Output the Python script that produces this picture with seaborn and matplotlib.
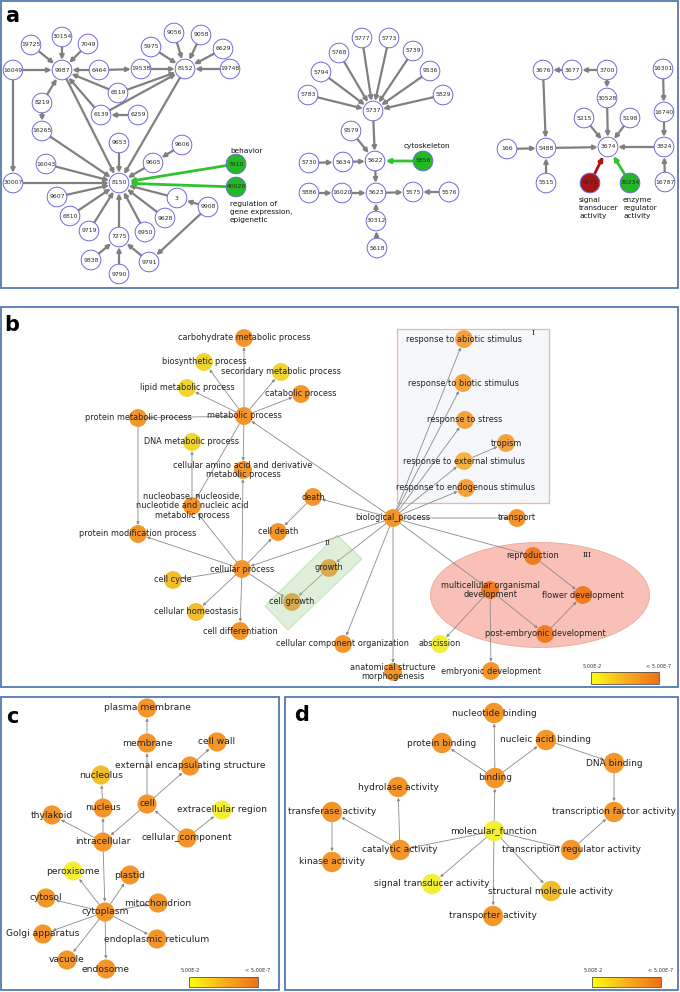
import numpy as np
import pandas as pd
import matplotlib
matplotlib.use('Agg')
import matplotlib.pyplot as plt
import seaborn as sns
from matplotlib.patches import Rectangle, Ellipse, Polygon

sns.set_theme(style='white')
plt.rcParams['font.family'] = ['DejaVu Sans']

# ---------------- panel a : GO id networks ----------------
a_ids = ['19725', '30154', '7049', '16049', '9987', '6464', '19538', '8152', '19748',
         '5975', '9056', '9058', '6629', '6519', '8219', '6139', '6259', '16265',
         '9653', '9606', '16043', '9605', '30007', '8150', '9607', '3', '9908',
         '6810', '9628', '9719', '7275', '6950', '9838', '9791', '9790', '7610', '40029',
         '5777', '5773', '5768', '5739', '5794', '9536', '5783', '5829', '5737', '9579',
         '5730', '5634', '5622', '5856', '5886', '16020', '5623', '5575', '5576',
         '30312', '5618',
         '3676', '3677', '3700', '16301', '30528', '16740', '5215', '5198', '166',
         '5488', '3674', '3824', '5515', '4871', '30234', '16787']
a_x = [31, 62, 88, 13, 62, 99, 141, 185, 230,
       151, 174, 201, 223, 118, 42, 101, 138, 42,
       119, 182, 46, 153, 13, 119, 57, 177, 208,
       70, 165, 89, 119, 145, 91, 149, 119, 236, 236,
       362, 389, 339, 413, 321, 430, 308, 443, 373, 351,
       309, 343, 375, 423, 309, 342, 376, 413, 449,
       376, 377,
       543, 572, 607, 663, 607, 664, 584, 630, 507,
       546, 608, 664, 546, 590, 630, 665]
a_y = [45, 37, 44, 70, 70, 70, 69, 69, 69,
       47, 33, 35, 49, 93, 103, 115, 115, 131,
       143, 145, 164, 163, 183, 183, 197, 198, 207,
       216, 218, 231, 237, 232, 260, 262, 274, 164, 187,
       38, 38, 53, 51, 72, 71, 95, 95, 111, 131,
       163, 162, 161, 161, 193, 193, 193, 192, 192,
       221, 248,
       70, 70, 70, 69, 98, 112, 118, 118, 149,
       148, 147, 147, 183, 183, 183, 182]
a_kind = ['plain'] * len(a_ids)
for k in ['7610', '40029', '5856', '30234']:
    a_kind[a_ids.index(k)] = 'green'
a_kind[a_ids.index('4871')] = 'red'

a_edges = [('19725', '9987'), ('30154', '9987'), ('7049', '9987'), ('16049', '9987'),
           ('6464', '9987'), ('6464', '19538'), ('19538', '8152'), ('19748', '8152'),
           ('5975', '8152'), ('9056', '8152'), ('9058', '8152'), ('6629', '8152'),
           ('6519', '9987'), ('6519', '8152'), ('6139', '9987'), ('6139', '8152'),
           ('6259', '6139'), ('8219', '9987'), ('8219', '16265'), ('16265', '8150'),
           ('16049', '30007'), ('30007', '8150'), ('9987', '8150'), ('8152', '8150'),
           ('9653', '8150'), ('16043', '8150'), ('9605', '8150'), ('9606', '9605'),
           ('9607', '8150'), ('6810', '8150'), ('9719', '8150'), ('7275', '8150'),
           ('6950', '8150'), ('9628', '8150'), ('3', '8150'), ('9908', '3'),
           ('9908', '9791'), ('9838', '7275'), ('9790', '7275'), ('9791', '7275'),
           ('5777', '5737'), ('5773', '5737'), ('5768', '5737'), ('5739', '5737'),
           ('5794', '5737'), ('9536', '5737'), ('5783', '5737'), ('5829', '5737'),
           ('5737', '5622'), ('9579', '5622'), ('5730', '5634'), ('5634', '5622'),
           ('5622', '5623'), ('5886', '16020'), ('16020', '5623'), ('5623', '5575'),
           ('5576', '5575'), ('30312', '5623'), ('5618', '30312'),
           ('3700', '3677'), ('3677', '3676'), ('3676', '5488'), ('3700', '30528'),
           ('30528', '3674'), ('166', '5488'), ('5515', '5488'), ('5488', '3674'),
           ('5215', '3674'), ('5198', '3674'), ('16301', '16740'), ('16740', '3824'),
           ('3824', '3674'), ('16787', '3824')]
a_green_edges = [('7610', '8150'), ('40029', '8150'), ('5856', '5622'), ('30234', '3674')]
a_red_edges = [('4871', '3674')]

# ---------------- panel b : biological process ----------------
b_keys = ['carb', 'bios', 'secm', 'lipid', 'catab', 'protm', 'metab', 'dna', 'amino',
          'nucl', 'protmod', 'death', 'celldeath', 'cellp', 'cycle', 'growth',
          'cellgrowth', 'homeo', 'diff', 'ccorg', 'biop', 'abio', 'biot', 'stress',
          'trop', 'ext', 'endo', 'transp', 'repro', 'multi', 'flower', 'post',
          'absc', 'anat', 'embr']
b_labels = ['carbohydrate metabolic process', 'biosynthetic process',
            'secondary metabolic process', 'lipid metabolic process', 'catabolic process',
            'protein metabolic process', 'metabolic process', 'DNA metabolic process',
            'cellular amino acid and derivative\nmetabolic process',
            'nucleobase, nucleoside,\nnucleotide and nucleic acid\nmetabolic process',
            'protein modification process', 'death', 'cell death', 'cellular process',
            'cell cycle', 'growth', 'cell growth', 'cellular homeostasis',
            'cell differentiation', 'cellular component organization',
            'biological_process', 'response to abiotic stimulus',
            'response to biotic stimulus', 'response to stress', 'tropism',
            'response to external stimulus', 'response to endogenous stimulus',
            'transport', 'reproduction', 'multicellular organismal\ndevelopment',
            'flower development', 'post-embryonic development', 'abscission',
            'anatomical structure\nmorphogenesis', 'embryonic development']
b_x = [244, 204, 281, 187, 301, 138, 244, 192, 243,
       192, 138, 313, 278, 242, 173, 329,
       292, 196, 240, 343, 393, 464, 463, 465,
       506, 464, 466, 517, 533, 490, 583, 545,
       440, 393, 491]
b_y = [338, 362, 372, 388, 394, 418, 416, 442, 470,
       506, 534, 497, 532, 569, 580, 568,
       602, 612, 631, 644, 518, 339, 383, 420,
       443, 461, 488, 518, 556, 590, 595, 634,
       644, 672, 671]
b_level = ['o', 'y', 'y', 'y', 'o', 'o', 'o', 'y', 'o',
           'o', 'o', 'o', 'o', 'o', 'g', 'o',
           'o', 'g', 'o', 'o', 'o', 'lo', 'lo', 'lo',
           'lo', 'xo', 'lo', 'o', 'ro', 'ro', 'ro', 'ro',
           'by', 'o', 'o']
b_edges = [('metab', 'carb'), ('metab', 'bios'), ('metab', 'secm'), ('metab', 'lipid'),
           ('metab', 'catab'), ('metab', 'protm'), ('metab', 'amino'), ('metab', 'nucl'),
           ('nucl', 'dna'), ('protm', 'protmod'), ('cellp', 'protmod'), ('cellp', 'nucl'),
           ('cellp', 'amino'), ('cellp', 'celldeath'), ('death', 'celldeath'),
           ('cellp', 'cycle'), ('cellp', 'homeo'), ('cellp', 'diff'),
           ('cellp', 'cellgrowth'), ('growth', 'cellgrowth'), ('biop', 'metab'),
           ('biop', 'death'), ('biop', 'cellp'), ('biop', 'growth'), ('biop', 'abio'),
           ('biop', 'biot'), ('biop', 'stress'), ('biop', 'ext'), ('biop', 'endo'),
           ('ext', 'trop'), ('biop', 'transp'), ('biop', 'repro'), ('biop', 'multi'),
           ('biop', 'ccorg'), ('biop', 'anat'), ('repro', 'flower'), ('multi', 'post'),
           ('multi', 'absc'), ('multi', 'embr'), ('post', 'flower')]

# ---------------- panel c : cellular component ----------------
c_labels = ['plasma membrane', 'membrane', 'cell wall', 'external encapsulating structure',
            'nucleolus', 'nucleus', 'cell', 'extracellular region', 'thylakoid',
            'intracellular', 'cellular_component', 'peroxisome', 'plastid',
            'mitochondrion', 'cytosol', 'cytoplasm', 'Golgi apparatus',
            'endoplasmic reticulum', 'vacuole', 'endosome']
c_x = [147, 147, 217, 190, 101, 103, 147, 222, 52, 103, 187, 73, 130, 158, 46, 105,
       43, 157, 67, 106]
c_y = [708, 743, 742, 766, 775, 808, 804, 810, 815, 842, 838, 871, 875, 903, 898, 912,
       934, 939, 960, 969]
c_level = ['o', 'o', 'o', 'o', 'g', 'o', 'o', 'by', 'o', 'o', 'o', 'by', 'o', 'o', 'o',
           'o', 'o', 'o', 'o', 'o']
c_edges = [('membrane', 'plasma membrane'), ('cell', 'membrane'),
           ('cell', 'external encapsulating structure'),
           ('external encapsulating structure', 'cell wall'), ('cell', 'intracellular'),
           ('cellular_component', 'cell'), ('cellular_component', 'extracellular region'),
           ('nucleus', 'nucleolus'), ('intracellular', 'nucleus'),
           ('intracellular', 'thylakoid'), ('intracellular', 'cytoplasm'),
           ('cytoplasm', 'peroxisome'), ('cytoplasm', 'plastid'),
           ('cytoplasm', 'mitochondrion'), ('cytoplasm', 'cytosol'),
           ('cytoplasm', 'Golgi apparatus'), ('cytoplasm', 'endoplasmic reticulum'),
           ('cytoplasm', 'vacuole'), ('cytoplasm', 'endosome')]

# ---------------- panel d : molecular function ----------------
d_labels = ['nucleotide binding', 'protein binding', 'nucleic acid binding', 'DNA binding',
            'binding', 'hydrolase activity', 'transferase activity',
            'transcription factor activity', 'molecular_function', 'catalytic activity',
            'transcription regulator activity', 'kinase activity',
            'signal transducer activity', 'structural molecule activity',
            'transporter activity']
d_x = [494, 442, 546, 614, 495, 398, 332, 614, 494, 400, 571, 332, 432, 551, 493]
d_y = [713, 743, 740, 763, 778, 787, 812, 812, 831, 850, 850, 862, 884, 891, 916]
d_level = ['o', 'o', 'o', 'o', 'o', 'o', 'o', 'o', 'by', 'o', 'o', 'o', 'by', 'g', 'o']
d_edges = [('binding', 'nucleotide binding'), ('binding', 'protein binding'),
           ('binding', 'nucleic acid binding'), ('nucleic acid binding', 'DNA binding'),
           ('DNA binding', 'transcription factor activity'),
           ('transcription regulator activity', 'transcription factor activity'),
           ('molecular_function', 'binding'), ('molecular_function', 'catalytic activity'),
           ('molecular_function', 'transcription regulator activity'),
           ('molecular_function', 'signal transducer activity'),
           ('molecular_function', 'structural molecule activity'),
           ('molecular_function', 'transporter activity'),
           ('catalytic activity', 'hydrolase activity'),
           ('catalytic activity', 'transferase activity'),
           ('transferase activity', 'kinase activity')]

palette = {'o': '#f4952a', 'lo': '#f3a23e', 'xo': '#f5b442', 'ro': '#f07b22',
           'g': '#f2bd2c', 'y': '#f0d52e', 'by': '#f4ee34'}

PT = 72 / 100.0  # points per pixel


def draw_edges(ax, pos, edges, r, color, lw, ms, z=2):
    for s, t in edges:
        ax.annotate('', xy=pos[t], xytext=pos[s],
                    arrowprops=dict(arrowstyle='-|>', color=color, lw=lw,
                                    mutation_scale=ms, shrinkA=r * PT,
                                    shrinkB=r * PT + 0.5), zorder=z)


def colorbar(ax, x0, x1, y0, y1, fs):
    grad = np.linspace(0, 1, 200).reshape(1, -1)
    cmap = matplotlib.colors.LinearSegmentedColormap.from_list(
        'yo', ['#ffff10', '#f8b020', '#ee7018'])
    ax.imshow(grad, extent=(x0, x1, y1, y0), cmap=cmap, aspect='auto', zorder=5)
    ax.add_patch(Rectangle((x0, y0), x1 - x0, y1 - y0, fill=False, ec='#555555',
                           lw=0.6, zorder=6))
    ax.text(x0 + 1, y0 - 6, '5.00E-2', fontsize=fs, ha='center', va='center',
            color='#333333')
    ax.text(x1, y0 - 6, '< 5.00E-7', fontsize=fs, ha='center', va='center',
            color='#333333')


fig = plt.figure(figsize=(6.8, 9.92), dpi=100)
ax = fig.add_axes([0, 0, 1, 1])
ax.set_axis_off()

# panel frames
frame = '#5478b0'
for (x0, y0, x1, y1) in [(1, 1, 678, 288), (1, 307, 678, 687), (1, 697, 279, 990),
                         (285, 697, 678, 990)]:
    ax.add_patch(Rectangle((x0, y0), x1 - x0, y1 - y0, fill=False, ec=frame, lw=1.3,
                           zorder=1))
for lab, (x, y) in zip('abcd', [(12, 16), (12, 325), (12, 717), (302, 715)]):
    ax.text(x, y, lab, fontsize=15, fontweight='bold', ha='center', va='center',
            color='black')

# ---- a
apos = {k: (x, y) for k, x, y in zip(a_ids, a_x, a_y)}
draw_edges(ax, apos, a_edges, 9.5, '#808080', 1.6, 6)
draw_edges(ax, apos, a_green_edges, 10, '#2fc42f', 2.0, 6)
draw_edges(ax, apos, a_red_edges, 10, '#b01010', 2.0, 6)
adf = pd.DataFrame({'x': a_x, 'y': a_y, 'kind': a_kind, 'id': a_ids})
sns.scatterplot(data=adf, x='x', y='y', hue='kind', ax=ax, s=200, legend=False,
                palette={'plain': 'white', 'green': '#22b922', 'red': '#a81414'},
                edgecolor='#6c6cd8', linewidth=0.7, zorder=3)
for k, x, y in zip(a_ids, a_x, a_y):
    ax.text(x, y, k, fontsize=4.4, ha='center', va='center', color='#2a2a2a', zorder=4)
ax.text(230, 151, 'behavior', fontsize=5.3, ha='left', va='center', color='#111111')
ax.text(230, 212, 'regulation of\ngene expression,\nepigenetic', fontsize=5.3,
        ha='left', va='center', color='#111111', linespacing=1.4)
ax.text(427, 146, 'cytoskeleton', fontsize=5.3, ha='center', va='center',
        color='#111111')
ax.text(579, 208, 'signal\ntransducer\nactivity', fontsize=5.3, ha='left',
        va='center', color='#111111', linespacing=1.4)
ax.text(623, 208, 'enzyme\nregulator\nactivity', fontsize=5.3, ha='left',
        va='center', color='#111111', linespacing=1.4)

# ---- b
ax.add_patch(Rectangle((397, 329), 152, 174, fc='#f5f7fa', ec='#f2b597', lw=0.9,
                       zorder=1.5))
ax.add_patch(Ellipse((540, 595), 219, 105, fc='#f8c0b6', ec='#f0a898', lw=0.6,
                     zorder=1.5))
bpos = {k: (x, y) for k, x, y in zip(b_keys, b_x, b_y)}
draw_edges(ax, bpos, b_edges, 8.5, '#8a8a8a', 0.6, 4)
bdf = pd.DataFrame({'x': b_x, 'y': b_y, 'level': b_level})
sns.scatterplot(data=bdf, x='x', y='y', hue='level', palette=palette, ax=ax, s=165,
                legend=False, linewidth=0, zorder=3)
ax.add_patch(Polygon([(265, 606), (337, 535), (362, 559), (288, 630)], closed=True,
                     fc='#a5d392', alpha=0.35, ec='#8cc078', lw=0.8, zorder=3.5))
for lab, x, y in zip(b_labels, b_x, b_y):
    ax.text(x, y, lab, fontsize=5.9, ha='center', va='center', color='#222222',
            linespacing=1.0, zorder=4)
ax.text(533, 333, 'I', fontsize=5.5, family='serif', ha='center', va='center',
        color='#222222')
ax.text(328, 543, 'II', fontsize=5.5, family='serif', ha='center', va='center',
        color='#222222')
ax.text(587, 555, 'III', fontsize=5.5, family='serif', ha='center', va='center',
        color='#222222')
colorbar(ax, 591, 659, 672, 684, 3.6)

# ---- c
cpos = {k: (x, y) for k, x, y in zip(c_labels, c_x, c_y)}
draw_edges(ax, cpos, c_edges, 9.5, '#8a8a8a', 0.6, 4)
cdf = pd.DataFrame({'x': c_x, 'y': c_y, 'level': c_level})
sns.scatterplot(data=cdf, x='x', y='y', hue='level', palette=palette, ax=ax, s=190,
                legend=False, linewidth=0, zorder=3)
for lab, x, y in zip(c_labels, c_x, c_y):
    ax.text(x, y, lab, fontsize=6.6, ha='center', va='center', color='#222222',
            zorder=4)
colorbar(ax, 189, 258, 977, 987, 3.6)

# ---- d
dpos = {k: (x, y) for k, x, y in zip(d_labels, d_x, d_y)}
draw_edges(ax, dpos, d_edges, 10, '#8a8a8a', 0.6, 4)
ddf = pd.DataFrame({'x': d_x, 'y': d_y, 'level': d_level})
sns.scatterplot(data=ddf, x='x', y='y', hue='level', palette=palette, ax=ax, s=215,
                legend=False, linewidth=0, zorder=3)
for lab, x, y in zip(d_labels, d_x, d_y):
    ax.text(x, y, lab, fontsize=6.5, ha='center', va='center', color='#222222',
            zorder=4)
colorbar(ax, 592, 661, 977, 987, 3.6)

ax.set_xlim(0, 680)
ax.set_ylim(992, 0)
fig.savefig('out.png', dpi=100, facecolor='white')
